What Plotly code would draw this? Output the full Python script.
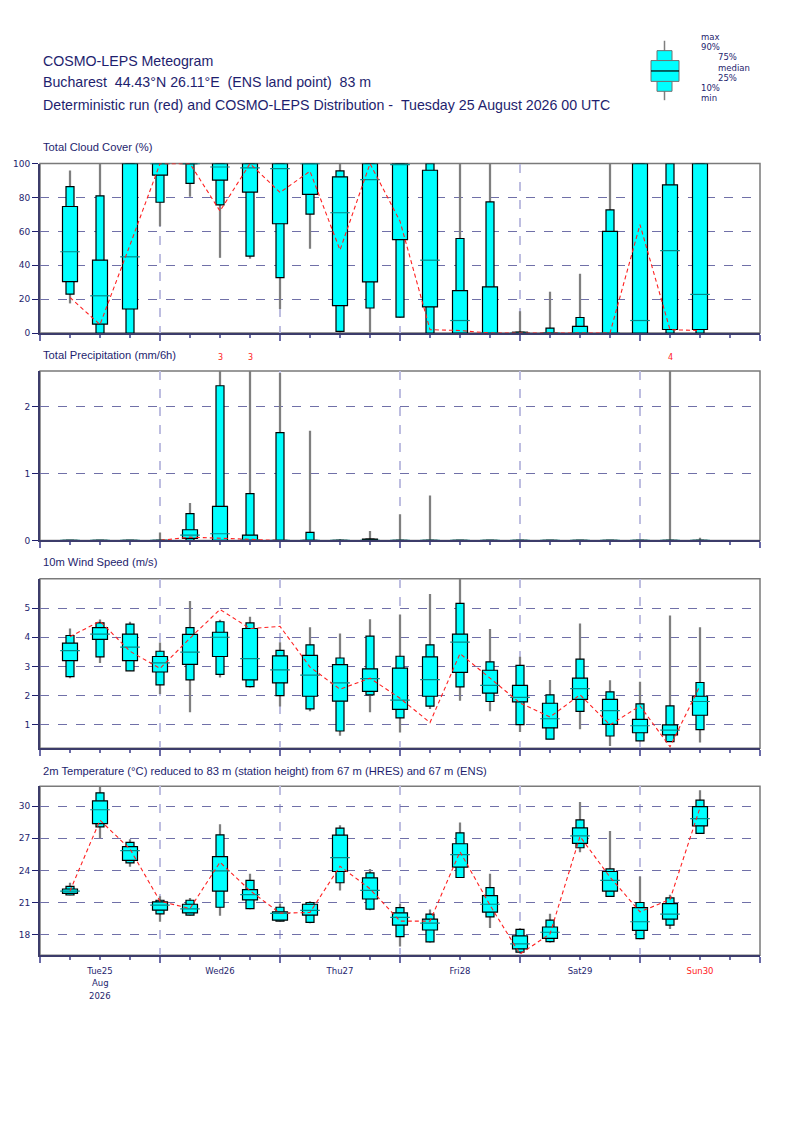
import plotly.graph_objects as go
from plotly.subplots import make_subplots

# the page body adds an 8px margin; the figure is kept a little shorter than the window so the page never scrolls
OFF = 8
W, H = 800 - 2 * OFF, 1100
NAVY = "#1e1e6e"
CYAN = "#00ffff"
TEAL = "#008b8b"
RED = "#ff2020"

# forecast steps (hours after Tue 25 Aug 2026 00 UTC)
hours = [6, 12, 18, 24, 30, 36, 42, 48, 54, 60, 66, 72, 78, 84, 90, 96, 102, 108, 114, 120, 126, 132]

# Total cloud cover (%)
cloud_min = [17.5, 0, 0, 63, 80.5, 44.4, 43.9, 14.2, 49.7, 0, 0, 9, 0, 0, 0, 0, 0, 0, 0, 0, 0, 0]
cloud_p10 = [23, 0, 0, 77.2, 88.3, 75.6, 45.4, 32.7, 70.2, 1, 14.8, 9.4, 0, 0, 0, 0, 0, 0, 0, 0, 0, 0]
cloud_p25 = [30.4, 5.3, 14.2, 93.2, 100, 90.3, 83.2, 64.5, 81.9, 16.2, 30.2, 55.2, 15.4, 0, 0, 0, 0, 0, 0, 0, 2.1, 2.1]
cloud_med = [48, 22, 45, 100, 100, 98, 97.5, 97, 100, 71, 90.6, 99.4, 43, 7.4, 0, 0, 0, 0, 0, 7.4, 48.7, 22.8]
cloud_p75 = [74.7, 43, 100, 100, 100, 100, 100, 100, 100, 92.2, 100, 100, 96.1, 25.1, 27.3, 0.5, 0, 3.9, 60, 100, 87.5, 100]
cloud_p90 = [86.4, 81, 100, 100, 100, 100, 100, 100, 100, 95.7, 100, 100, 100, 55.8, 77.4, 0.5, 2.9, 9.2, 72.7, 100, 100, 100]
cloud_max = [96, 100, 100, 100, 100, 100, 100, 100, 100, 100, 100, 100, 100, 100, 100, 12.9, 24.4, 35, 100, 100, 100, 100]
cloud_det = [21, 5, 52, 100, 100, 72, 100, 83, 95.5, 49, 100, 66, 2, 1.5, 0, 0, 0, 0, 0, 64, 2, 1.5]

# Total precipitation (mm/6h)
prec_min = [0] * 22
prec_p10 = [0] * 22
prec_p25 = [0, 0, 0, 0, 0.03, 0, 0, 0, 0, 0, 0, 0, 0, 0, 0, 0, 0, 0, 0, 0, 0, 0]
prec_med = [0, 0, 0, 0, 0.08, 0.10, 0.01, 0, 0, 0, 0, 0, 0, 0, 0, 0, 0, 0, 0, 0, 0, 0]
prec_p75 = [0, 0, 0, 0, 0.16, 0.51, 0.08, 0, 0, 0, 0.02, 0, 0, 0, 0, 0, 0, 0, 0, 0, 0, 0]
prec_p90 = [0, 0, 0, 0, 0.40, 2.31, 0.70, 1.61, 0.12, 0, 0.02, 0, 0, 0, 0, 0, 0, 0, 0, 0, 0, 0]
prec_max = [0, 0, 0, 0.12, 0.56, 3, 3, 2.5, 1.64, 0.01, 0.14, 0.39, 0.67, 0, 0, 0, 0, 0, 0, 0, 4, 0.04]
prec_det = [0, 0, 0, 0, 0.05, 0.03, 0.01, 0, 0, 0, 0, 0, 0, 0, 0, 0, 0, 0, 0, 0, 0, 0]

# 10m wind speed (m/s)
wind_min = [2.60, 3.12, 2.85, 2.06, 1.43, 2.62, 2.28, 1.63, 1.47, 0.63, 1.43, 0.74, 1.54, 1.83, 1.47, 0.76, 0.51, 0.85, 0.28, 0.45, 0.43, 0.40]
wind_p10 = [2.65, 3.33, 2.85, 2.37, 2.54, 2.73, 2.31, 2.00, 1.55, 0.79, 2.03, 1.24, 1.64, 2.30, 1.80, 1.01, 0.51, 1.46, 0.62, 0.45, 0.43, 0.84]
wind_p25 = [3.20, 3.93, 3.20, 2.81, 3.07, 3.34, 2.54, 2.44, 1.98, 1.81, 2.15, 1.53, 1.98, 2.80, 2.09, 1.79, 0.90, 1.87, 1.02, 0.73, 0.66, 1.33]
wind_med = [3.54, 4.11, 3.66, 3.12, 3.49, 4.00, 3.27, 2.88, 2.70, 2.44, 2.58, 1.85, 2.55, 3.83, 2.35, 1.94, 1.21, 2.24, 1.49, 0.97, 0.82, 1.80]
wind_p75 = [3.80, 4.33, 4.11, 3.34, 4.10, 4.17, 4.30, 3.36, 3.38, 3.06, 2.92, 2.94, 3.33, 4.11, 2.87, 2.35, 1.74, 2.60, 1.87, 1.19, 1.00, 1.98]
wind_p90 = [4.06, 4.49, 4.45, 3.52, 4.33, 4.53, 4.49, 3.55, 3.74, 3.29, 4.04, 3.35, 3.74, 5.16, 3.16, 3.04, 2.03, 3.25, 2.13, 1.72, 1.65, 2.45]
wind_max = [4.30, 4.61, 4.53, 3.82, 5.24, 4.60, 4.70, 3.83, 4.34, 4.13, 4.62, 4.78, 5.48, 6.00, 4.28, 3.33, 2.54, 4.47, 2.53, 2.48, 4.74, 4.34]
wind_det = [4.02, 4.55, 3.52, 2.93, 3.97, 4.95, 4.30, 4.37, 2.98, 2.22, 2.60, 1.91, 1.08, 3.44, 2.60, 1.75, 1.27, 2.03, 1.00, 1.65, 0.25, 2.34]

# 2m temperature (deg C)
temp_min = [21.70, 27.00, 24.34, 19.23, 19.80, 19.78, 20.40, 19.25, 19.10, 22.15, 20.30, 16.92, 17.30, 23.30, 18.65, 16.40, 17.30, 25.69, 21.60, 17.60, 18.55, 27.40]
temp_p10 = [21.72, 28.06, 24.71, 19.97, 19.85, 20.58, 20.46, 19.29, 19.17, 22.86, 20.40, 17.85, 17.35, 23.35, 19.69, 16.40, 17.38, 26.12, 21.60, 17.66, 18.92, 27.45]
temp_p25 = [21.88, 28.37, 24.95, 20.31, 20.06, 22.09, 21.26, 19.38, 19.85, 23.91, 21.35, 18.92, 18.46, 24.31, 20.12, 16.71, 17.69, 26.52, 22.09, 18.43, 19.48, 28.15]
temp_med = [22.09, 29.66, 25.85, 20.77, 20.43, 23.97, 21.75, 20.00, 20.28, 25.20, 22.15, 19.63, 19.11, 25.48, 20.86, 17.17, 18.25, 27.23, 23.08, 19.23, 19.94, 28.83]
temp_p75 = [22.28, 30.49, 26.22, 21.08, 20.86, 25.29, 22.22, 20.15, 20.86, 27.29, 23.32, 20.06, 19.48, 26.49, 21.66, 17.91, 18.74, 27.97, 23.91, 20.55, 20.92, 29.94]
temp_p90 = [22.52, 31.23, 26.62, 21.23, 21.23, 27.32, 23.08, 20.58, 21.02, 27.94, 23.78, 20.55, 19.94, 27.51, 22.40, 18.52, 19.38, 28.71, 24.15, 21.02, 21.45, 30.55]
temp_max = [22.86, 31.85, 26.92, 21.60, 21.45, 28.31, 23.69, 20.92, 21.14, 28.22, 24.15, 20.92, 20.37, 28.46, 23.69, 18.62, 19.97, 30.37, 27.69, 23.45, 21.75, 31.48]
temp_det = [22.10, 28.68, 26.00, 21.14, 20.46, 24.77, 22.12, 20.03, 20.09, 24.40, 22.30, 19.29, 19.29, 25.75, 20.77, 16.22, 18.10, 27.17, 23.38, 20.15, 21.30, 29.85]

day_ticks = [0, 24, 48, 72, 96, 120, 144]
label_hours = [12, 36, 60, 84, 108, 132]
label_text = ["Tue25", "Wed26", "Thu27", "Fri28", "Sat29", '<span style="color:#ff2020">Sun30</span>']
first_day_extra = ["Aug", "2026"]


def py(y):
    # page pixel row -> paper fraction
    return 1 - (y - OFF) / H


def pxx(x):
    # page pixel column -> paper fraction
    return (x - 40) / 720


panels = [
    dict(q=(cloud_min, cloud_p10, cloud_p25, cloud_med, cloud_p75, cloud_p90, cloud_max), det=cloud_det,
         rng=[0, 100], ticks=[0, 20, 40, 60, 80, 100], top=160, bot=331,
         title="Total Cloud Cover (%)", ty=143, flag=False),
    dict(q=(prec_min, prec_p10, prec_p25, prec_med, prec_p75, prec_p90, prec_max), det=prec_det,
         rng=[0, 2.53], ticks=[0, 1, 2], top=369.3, bot=540.3,
         title="Total Precipitation (mm/6h)", ty=353, flag=True),
    dict(q=(wind_min, wind_p10, wind_p25, wind_med, wind_p75, wind_p90, wind_max), det=wind_det,
         rng=[0.2, 6.0], ticks=[1, 2, 3, 4, 5], top=579, bot=750,
         title="10m Wind Speed (m/s)", ty=562, flag=False),
    dict(q=(temp_min, temp_p10, temp_p25, temp_med, temp_p75, temp_p90, temp_max), det=temp_det,
         rng=[16.1, 31.85], ticks=[18, 21, 24, 27, 30], top=788.3, bot=959,
         title="2m Temperature (\u00b0C) reduced to 83 m (station height) from 67 m (HRES) and 67 m (ENS)",
         ty=773, flag=False),
]

fig = make_subplots(rows=4, cols=1)

for i, p in enumerate(panels):
    row = i + 1
    sfx = "" if row == 1 else str(row)
    mn, p10, p25, med, p75, p90, mx = p["q"]
    # whiskers min..max
    fig.add_trace(go.Bar(x=hours, base=mn, y=[b - a for a, b in zip(mn, mx)], width=0.45,
                         marker=dict(color="#7f7f7f", line=dict(width=0)),
                         hoverinfo="skip", showlegend=False), row=row, col=1)
    # 10-90 narrow box
    fig.add_trace(go.Bar(x=hours, base=p10, y=[b - a for a, b in zip(p10, p90)], width=1.6,
                         marker=dict(color=CYAN, line=dict(color="black", width=1.2)),
                         hoverinfo="skip", showlegend=False), row=row, col=1)
    # 25-75 wide box
    fig.add_trace(go.Bar(x=hours, base=p25, y=[b - a for a, b in zip(p25, p75)], width=3.0,
                         marker=dict(color=CYAN, line=dict(color="black", width=1.2)),
                         hoverinfo="skip", showlegend=False), row=row, col=1)
    # median
    fig.add_trace(go.Scatter(x=hours, y=med, mode="markers",
                             marker=dict(symbol="line-ew", size=14, line=dict(color=TEAL, width=1.2)),
                             hoverinfo="skip", showlegend=False), row=row, col=1)
    # deterministic run
    fig.add_trace(go.Scatter(x=hours, y=p["det"], mode="lines",
                             line=dict(color=RED, width=1.1, dash="4px,3px"),
                             hoverinfo="skip", showlegend=False), row=row, col=1)

    # off-scale precipitation maxima written in red above the panel
    if p["flag"]:
        for h, v in zip(hours, mx):
            if v > p["rng"][1]:
                fig.add_annotation(x=h, y=1, xref=f"x{sfx}", yref=f"y{sfx} domain", yanchor="bottom",
                                   yshift=7, text=f"{v:g}", showarrow=False,
                                   font=dict(family="DejaVu Sans", size=8, color=RED))

    fig.update_xaxes(range=[0, 144], tickvals=day_ticks, showticklabels=False,
                     ticks="outside", ticklen=6, tickwidth=2, tickcolor="#6a6aa8",
                     minor=dict(dtick=6, tick0=0, ticks="outside", ticklen=3, tickwidth=1.5,
                                tickcolor="#6a6aa8", showgrid=False),
                     showgrid=True, gridcolor="#bdbde0", gridwidth=1.5, griddash="dash",
                     showline=True, linecolor="#3c3c6a", linewidth=2, zeroline=False,
                     domain=[0, 1], row=row, col=1)
    fig.update_yaxes(range=p["rng"], tickvals=p["ticks"], ticks="outside", ticklen=6,
                     tickcolor=NAVY, tickwidth=1,
                     tickfont=dict(family="DejaVu Sans", size=9, color=NAVY),
                     showgrid=True, gridcolor="#7070a8", gridwidth=1, griddash="dash",
                     showline=True, linecolor="#3c3c6a", linewidth=2, zeroline=False,
                     domain=[py(p["bot"]), py(p["top"])], row=row, col=1)

    # grey frame on top/right
    fig.add_shape(type="rect", xref=f"x{sfx} domain", yref=f"y{sfx} domain", x0=0, x1=1, y0=0, y1=1,
                  line=dict(color="#7a7a7a", width=1.5), layer="below")

    fig.add_annotation(x=pxx(41), y=py(p["ty"]), xref="paper", yref="paper",
                       xanchor="left", yanchor="middle", text=p["title"], showarrow=False,
                       font=dict(family="Liberation Sans, Arial, sans-serif", size=11.2, color=NAVY))

# date labels under the bottom panel
fig.add_trace(go.Scatter(x=[None], y=[None], xaxis="x5", yaxis="y4", showlegend=False,
                         hoverinfo="skip"))
fig.update_layout(xaxis5=dict(overlaying="x4", anchor="y4", side="bottom", range=[0, 144],
                              tickvals=label_hours, ticktext=label_text, ticks="", showgrid=False,
                              showline=False, zeroline=False, ticklabelstandoff=9,
                              tickfont=dict(family="DejaVu Sans", size=8.5, color=NAVY)))
for k, txt in enumerate(first_day_extra):
    fig.add_annotation(x=label_hours[0], y=py(987 + 13.5 * k), xref="x4", yref="paper",
                       yanchor="middle", text=txt, showarrow=False,
                       font=dict(family="DejaVu Sans", size=8.5, color=NAVY))

# header
head = [("COSMO-LEPS Meteogram", 56),
        ("Bucharest\u00a0\u00a044.43\u00b0N 26.11\u00b0E\u00a0\u00a0(ENS land point)\u00a0\u00a083 m", 78),
        ("Deterministic run (red) and COSMO-LEPS Distribution -\u00a0\u00a0Tuesday 25 August 2026 00 UTC", 101)]
for txt, y in head:
    fig.add_annotation(x=pxx(41), y=py(y), xref="paper", yref="paper", xanchor="left",
                       yanchor="middle", text=txt, showarrow=False,
                       font=dict(family="Liberation Sans, Arial, sans-serif", size=14.2, color=NAVY))


# legend glyph (top right)
def prect(x0, y0, x1, y1, **kw):
    fig.add_shape(type="rect", xref="paper", yref="paper", x0=pxx(x0), x1=pxx(x1),
                  y0=py(y1), y1=py(y0), **kw)


fig.add_shape(type="line", xref="paper", yref="paper", x0=pxx(664.5), x1=pxx(664.5),
              y0=py(96), y1=py(36), line=dict(color="#7f7f7f", width=1.5))
prect(657, 46, 672, 56, fillcolor=CYAN, line=dict(color="#707070", width=1))
prect(657, 77, 672, 87, fillcolor=CYAN, line=dict(color="#707070", width=1))
prect(651, 56, 679, 77, fillcolor=CYAN, line=dict(color="#707070", width=1))
fig.add_shape(type="line", xref="paper", yref="paper", x0=pxx(651), x1=pxx(679),
              y0=py(66.5), y1=py(66.5), line=dict(color="black", width=1.2))
leg = [("max", 699, 32), ("90%", 699, 42.5), ("75%", 716, 52.5), ("median", 716, 63),
       ("25%", 716, 73.5), ("10%", 699, 84), ("min", 699, 94)]
for txt, x, y in leg:
    fig.add_annotation(x=pxx(x), y=py(y), xref="paper", yref="paper", xanchor="left",
                       yanchor="middle", text=txt, showarrow=False,
                       font=dict(family="DejaVu Sans", size=8.5, color=NAVY))

fig.update_layout(width=W, height=H, margin=dict(l=40 - OFF, r=W - 720 - (40 - OFF), t=0, b=0),
                  paper_bgcolor="white", plot_bgcolor="white", barmode="overlay",
                  showlegend=False)

fig.write_html("out.html")
